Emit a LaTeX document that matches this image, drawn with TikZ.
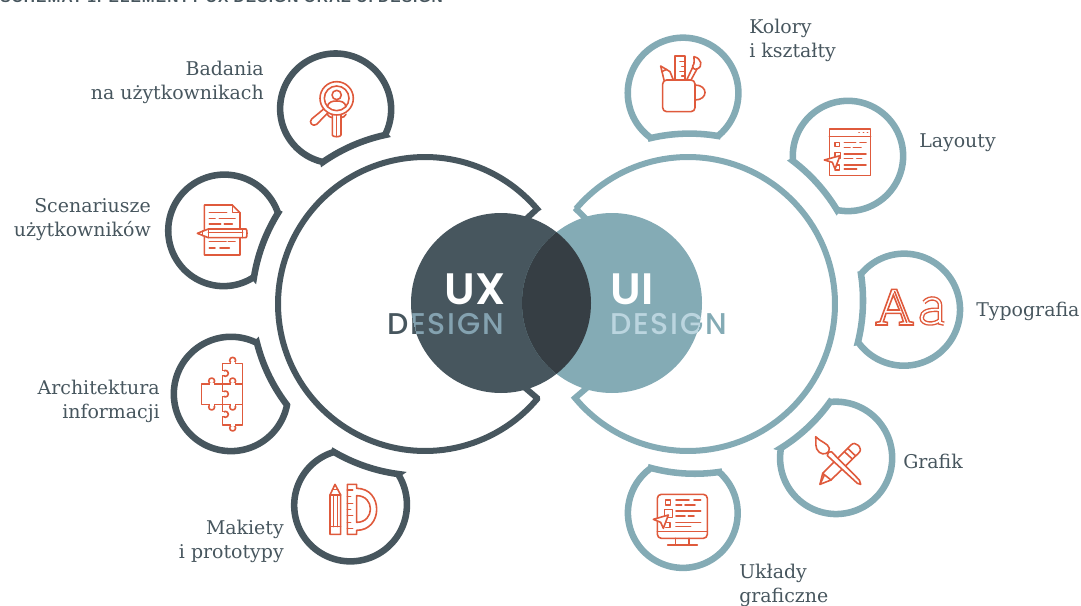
\documentclass[tikz,border=0pt]{standalone}
\usepackage{fontspec}
\setmainfont{DejaVu Serif}
\newfontfamily\geofont[LetterSpace=1]{Poppins SemiBold}
\newfontfamily\geomed[LetterSpace=6]{Poppins Medium}
\newfontfamily\capfont[LetterSpace=7]{Liberation Sans}
\definecolor{uxdark}{HTML}{47565E}
\definecolor{uilight}{HTML}{84ABB5}
\definecolor{overlap}{HTML}{363E44}
\definecolor{iconred}{HTML}{DF5A3C}
\definecolor{uxtext}{HTML}{84A2B0}
\definecolor{uitext}{HTML}{BBD5DF}
\tikzset{
 uxring/.style={draw=uxdark,line width=4.9pt,miter limit=6},
 uiring/.style={draw=uilight,line width=4.9pt,miter limit=6},
 bigux/.style={draw=uxdark,line width=4.5pt,miter limit=6},
 bigui/.style={draw=uilight,line width=4.5pt,miter limit=6},
 lab/.style={inner sep=0pt,text=uxdark,font=\fontsize{14.2}{18}\selectfont},
 labr/.style={lab,align=right,anchor=east},
 labl/.style={lab,align=left,anchor=west},
 ic/.style={draw=iconred,line width=1.2pt,line join=round,line cap=round},
 icw/.style={ic,fill=white},
 bigtext/.style={inner sep=0pt,anchor=base west,font=\geofont\fontsize{33}{33}\selectfont},
 subtext/.style={inner sep=0pt,anchor=base west,font=\geomed\fontsize{22.5}{24}\selectfont},
}
\def\bcx{425}\def\bcy{304}
\newcommand\ringshape[8]{%
 \pgfmathsetmacro\aone{atan2(#6-#3,#5-#2)}%
 \pgfmathsetmacro\atwo{atan2(#8-#3,#7-#2)}%
 \pgfmathsetmacro\rone{veclen(#5-#2,#6-#3)}%
 \pgfmathsetmacro\rtwo{veclen(#7-#2,#8-#3)}%
 \pgfmathsetmacro\sw{mod(\atwo-\aone+720,360)}%
 \pgfmathsetmacro\sw{\sw<180?\sw-360:\sw}%
 \pgfmathsetmacro\aend{\aone+\sw}%
 \pgfmathsetmacro\bone{atan2(#8-\bcy,#7-\bcx)}%
 \pgfmathsetmacro\btwo{atan2(#6-\bcy,#5-\bcx)}%
 \pgfmathsetmacro\Rone{veclen(#7-\bcx,#8-\bcy)}%
 \pgfmathsetmacro\Rtwo{veclen(#5-\bcx,#6-\bcy)}%
 \pgfmathsetmacro\bsw{mod(\btwo-\bone+540,360)-180}%
 \pgfmathsetmacro\bend{\bone+\bsw}%
 \draw[#1] plot[domain=\aone:\aend,samples=100] ({#2+(\rone+(\rtwo-\rone)*(\x-\aone)/\sw)*cos(\x)},{#3+(\rone+(\rtwo-\rone)*(\x-\aone)/\sw)*sin(\x)})
   -- plot[domain=\bone:\bend,samples=40] ({\bcx+(\Rone+(\Rtwo-\Rone)*(\x-\bone)/\bsw)*cos(\x)},{\bcy+(\Rone+(\Rtwo-\Rone)*(\x-\bone)/\bsw)*sin(\x)}) -- cycle;
}
\newcommand\knob[5]{% circle x y, mouth from-to
 \draw[icw] (#1,#2) circle[radius=9];
 \draw[white,line width=1.8pt] (#3) -- (#4);
}
\begin{document}
\begin{tikzpicture}[x=0.75pt,y=-0.75pt]
\useasboundingbox (0,0) rectangle (1081,606);
% clipped caption
\node[inner sep=0pt,anchor=base west,text=uxdark,font=\capfont\bfseries\fontsize{11.6}{12}\selectfont] (caption) at (0,3) {SCHEMAT 1. ELEMENTY UX DESIGN ORAZ UI DESIGN};
% big rings
\draw[bigux] (524,221) -- (537,209) -- plot[domain=-40.3:-319.7,samples=120] ({425+147*cos(\x)},{304+147*sin(\x)}) -- (537,398) -- (523,386);
\draw[bigui] (588,221) -- (575,208) -- plot[domain=-139.7:139.7,samples=120] ({688+147*cos(\x)},{304+147*sin(\x)}) -- (575,398) -- (589,386);
% discs
\fill[uxdark] (501,303) circle[radius=90];
\fill[uilight] (612,303) circle[radius=90];
\begin{scope}
 \clip (501,303) circle[radius=90];
 \fill[overlap] (612,303) circle[radius=90];
\end{scope}
% disc text
\node[bigtext,text=white] (ux) at (444,304) {UX};
\node[bigtext,text=white] (ui) at (610,304) {UI};
\node[subtext,text=uxdark] (dl) at (387,334) {DESIGN};
\node[subtext,text=uilight] (dr) at (610,334) {DESIGN};
\begin{scope}
 \clip (501,303) circle[radius=90];
 \node[subtext,text=uxtext] (dlb) at (387,334) {DESIGN};
\end{scope}
\begin{scope}
 \clip (612,303) circle[radius=90];
 \node[subtext,text=uitext] (drb) at (610,334) {DESIGN};
\end{scope}
% left small shapes
\ringshape{uxring}{335}{109}{55.5}{385}{135}{323}{162}
\ringshape{uxring}{224}{231}{56}{278}{213}{254}{277}
\ringshape{uxring}{231}{394}{56}{287}{405}{257}{343}
\ringshape{uxring}{350}{505}{55}{398}{474}{334}{452}
% right small shapes
\def\bcx{688}
\ringshape{uiring}{683}{93}{56}{718}{136}{651}{138}
\ringshape{uiring}{848}{156}{56}{837}{210}{793}{161}
\ringshape{uiring}{904}{309.5}{56.5}{858}{342}{861}{274}
\ringshape{uiring}{836}{458}{56}{781}{448}{830}{402}
\ringshape{uiring}{683}{513}{56}{651}{468}{719}{472}
% labels
\node[labr] (l1) at (264,82) {Badania\\na użytkownikach};
\node[labr] (l2) at (151,220) {Scenariusze\\użytkowników};
\node[labr] (l3) at (160,401) {Architektura\\informacji};
\node[labr] (l4) at (284,541) {Makiety\\i prototypy};
\node[labl] (r1) at (749,40) {Kolory\\i kształty};
\node[labl] (r2) at (919,143) {Layouty};
\node[labl] (r3) at (976,311) {Typografia};
\node[labl] (r4) at (903,461) {Grafik};
\node[labl] (r5) at (739,585) {Układy\\graficzne};
% icon: research
\begin{scope}[shift={(270,50)},scale=1/3]
 \draw[ic] (187,195) -- (187,255) .. controls (187,262) and (213,262) .. (213,255) -- (213,195);
 \draw[ic] (200,200) -- (200,258);
 \draw[ic] (172,193) -- (178,200) -- (187,203);
 \draw[ic] (228,193) -- (222,200) -- (213,203);
 \draw[ic] (160,178) -- (125,207) .. controls (115,217) and (128,232) .. (140,223) -- (172,190);
 \draw[ic] (200,145) circle[radius=50];
 \draw[ic] (200,145) circle[radius=37];
 \draw[ic] (200,135) circle[radius=14];
 \draw[ic] (172,170) .. controls (175,155) and (188,153) .. (200,153) .. controls (212,153) and (225,155) .. (228,170);
\end{scope}
% icon: scenario document
\begin{scope}[shift={(160,170)},scale=1/3]
 \draw[ic] (133,105) -- (217,105) -- (240,128) -- (240,255) -- (133,255) -- cycle;
 \draw[ic] (217,105) -- (217,128) -- (240,128);
 \foreach \a/\b/\c in {148/200/128,148/165/145,178/225/145,148/182/162,193/217/162,148/198/215,205/225/215,148/165/234,180/208/234}
  \draw[ic] (\a,\c) -- (\b,\c);
 \draw[icw] (145,177) -- (258,177) .. controls (262,177) and (262,203) .. (258,203) -- (145,203) -- (112,190) -- cycle;
 \draw[ic] (145,177) -- (145,203);
 \draw[ic] (128,183) -- (128,197);
 \draw[ic] (145,188) -- (248,188);
 \draw[ic] (248,177) -- (248,203);
\end{scope}
% icon: puzzle
\begin{scope}[shift={(165,335)},scale=1/3]
 \draw[ic] (110,147) rectangle (172,208);
 \draw[ic] (172,85) rectangle (233,147);
 \draw[ic] (172,147) rectangle (233,208);
 \draw[ic] (172,208) rectangle (233,270);
 \knob{203}{76}{197,85}{209,85}{}
 \knob{140}{138}{134,147}{146,147}{}
 \knob{140}{216}{134,208}{146,208}{}
 \knob{203}{138}{197,147}{209,147}{}
 \knob{181}{115}{172,109}{172,121}{}
 \knob{181}{177}{172,171}{172,183}{}
 \knob{203}{216}{197,208}{209,208}{}
 \knob{181}{238}{172,232}{172,244}{}
 \knob{203}{279}{197,270}{209,270}{}
\end{scope}
% icon: pencil and protractor
\begin{scope}[shift={(285,445)},scale=1/3]
 \draw[ic] (135,150) -- (150,118) -- (167,150) -- (167,268) -- (135,268) -- cycle;
 \draw[ic] (135,150) -- (167,150);
 \draw[ic] (135,245) -- (167,245);
 \draw[ic] (146,150) -- (146,245);
 \draw[ic] (157,150) -- (157,245);
 \draw[ic] (143,134) -- (158,134);
 \draw[ic] (187,118) -- (215,118) -- (215,130) .. controls (295,130) and (295,256) .. (215,256) -- (215,268) -- (187,268) -- cycle;
 \draw[ic] (215,152) .. controls (270,152) and (270,232) .. (215,232) -- cycle;
 \foreach \y/\l in {135/203,155/197,175/203,193/197,212/203,232/197,250/203}
  \draw[ic] (187,\y) -- (\l,\y);
\end{scope}
% icon: cup of tools
\begin{scope}[shift={(620,30)},scale=1/3]
 \draw[ic] (132,150) -- (122,108) -- (150,125) -- (160,150);
 \draw[ic] (125,125) -- (140,118);
 \draw[ic] (165,150) -- (165,78) -- (195,78) -- (195,150);
 \foreach \y/\l in {95/180,110/185,125/180,138/185} \draw[ic] (195,\y) -- (\l,\y);
 \draw[ic] (200,150) -- (218,112);
 \draw[ic] (213,150) -- (231,117);
 \draw[ic] (222,80) .. controls (245,85) and (250,110) .. (231,117) .. controls (222,120) and (215,112) .. (218,108) .. controls (226,100) and (220,90) .. (222,80) -- cycle;
 \draw[ic,rounded corners=3pt] (128,150) -- (128,245) -- (225,245) -- (225,150) -- cycle;
 \draw[ic] (225,165) .. controls (265,165) and (265,210) .. (225,210);
\end{scope}
% icon: layout window
\begin{scope}[shift={(785,95)},scale=1/3]
 \draw[ic] (133,102) rectangle (257,242);
 \draw[ic] (133,124) -- (257,124);
 \foreach \x in {222,235,247} \draw[ic] (\x,113) -- (\x+1,113);
 \draw[ic] (150,142) rectangle (163,155);
 \foreach \a/\b/\c in {178/212/143,225/243/143,178/195/157,205/228/157,178/243/177,178/203/190,215/230/190,178/243/210,178/215/222}
  \draw[ic] (\a,\c) -- (\b,\c);
 \draw[ic] (150,173) rectangle (167,190);
 \draw[ic] (155,210) -- (163,210) -- (163,225) -- (150,225);
 \draw[icw] (118,195) -- (165,182) -- (150,222) -- (142,202) -- cycle;
\end{scope}
% icon: Aa
\begin{scope}[shift={(850,245)},scale=1/3]
 \draw[ic,line join=miter] (78,240) -- (78,232) -- (90,230) -- (125,133) -- (140,133) -- (178,230) -- (190,232) -- (190,240) -- (148,240) -- (148,232) -- (160,230) -- (152,205) -- (108,205) -- (100,230) -- (112,232) -- (112,240) -- cycle;
 \draw[ic,line join=miter] (130,150) -- (113,195) -- (148,195) -- cycle;
 \draw[ic] (134,140) -- (170,232);
 \draw[iconred,line width=3.4pt] (222,172) .. controls (240,152) and (270,160) .. (270,180) -- (270,233) -- (282,236);
 \draw[iconred,line width=3.4pt] (270,195) .. controls (235,192) and (215,200) .. (215,218) .. controls (215,240) and (255,240) .. (270,225);
 \draw[white,line width=1.3pt] (222,172) .. controls (240,152) and (270,160) .. (270,180) -- (270,233) -- (282,236);
 \draw[white,line width=1.3pt] (270,195) .. controls (235,192) and (215,200) .. (215,218) .. controls (215,240) and (255,240) .. (270,225);
\end{scope}
% icon: brush and pencil
\begin{scope}[shift={(770,395)},scale=1/3]
 \draw[icw] (150,268) -- (158,235) -- (243,150) .. controls (250,143) and (258,145) .. (263,150) -- (268,155) .. controls (273,160) and (273,168) .. (265,175) -- (183,255) -- cycle;
 \draw[ic] (158,235) -- (183,255);
 \draw[ic] (163,240) -- (150,268);
 \draw[ic] (223,170) -- (247,192);
 \draw[ic] (233,160) -- (256,182);
 \draw[icw] (172,182) -- (262,265) -- (272,268) -- (268,255) -- (184,170) .. controls (178,168) and (170,175) .. (172,182) -- cycle;
 \draw[ic] (137,125) .. controls (150,140) and (175,145) .. (178,160) .. controls (180,175) and (160,182) .. (148,172) .. controls (132,160) and (140,140) .. (137,125) -- cycle;
\end{scope}
% icon: monitor
\begin{scope}[shift={(620,460)},scale=1/3]
 \draw[ic,rounded corners=3pt] (112,103) rectangle (262,235);
 \draw[ic] (112,215) -- (262,215);
 \draw[ic] (167,235) -- (167,255);
 \draw[ic] (207,235) -- (207,255);
 \draw[ic] (143,255) -- (232,255);
 \draw[ic] (137,120) rectangle (152,135);
 \foreach \a/\b/\c in {168/207/120,222/242/120,168/185/135,195/225/135,168/242/153,168/195/168,205/222/168,168/242/188,168/212/200}
  \draw[ic] (\a,\c) -- (\b,\c);
 \draw[ic] (133,148) rectangle (157,172);
 \draw[ic] (140,188) -- (150,188) -- (150,203) -- (137,203);
 \draw[icw] (100,178) -- (145,165) -- (130,205) -- (122,187) -- cycle;
\end{scope}
\end{tikzpicture}
\end{document}
